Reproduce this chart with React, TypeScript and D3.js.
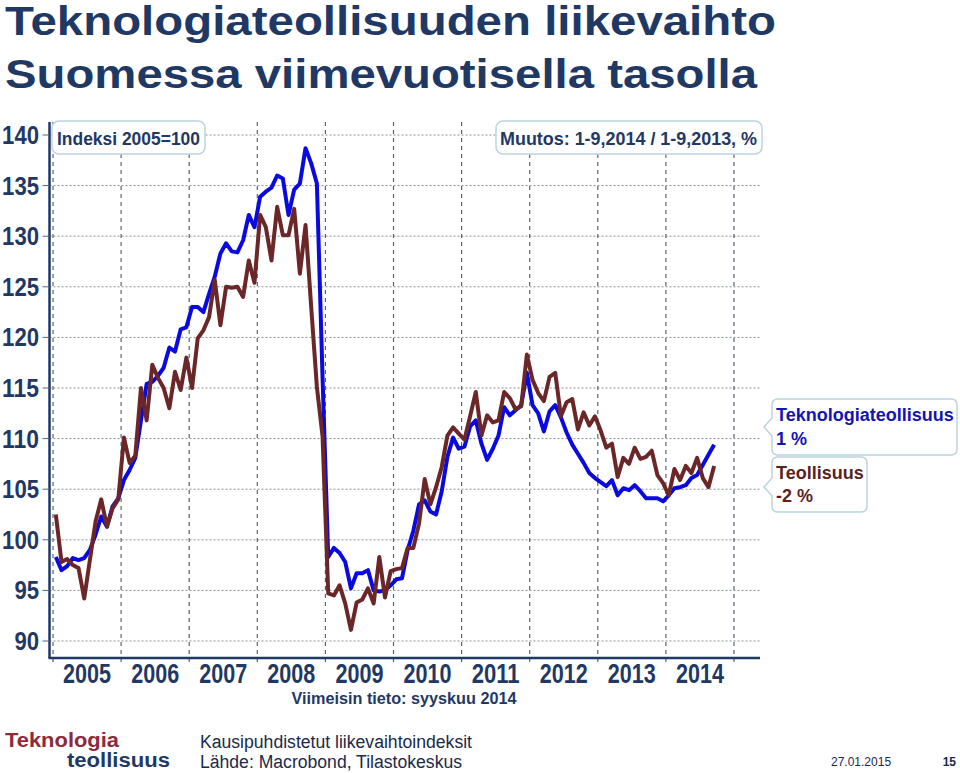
import React from 'react';
import * as d3 from 'd3';

// Index 2005=100, monthly Jan 2005 – Sep 2014
const years = ['2005', '2006', '2007', '2008', '2009', '2010', '2011', '2012', '2013', '2014'];
const yTicks = [90, 95, 100, 105, 110, 115, 120, 125, 130, 135, 140];

const teknologiateollisuus = [
  98.3, 97.0, 97.4, 98.2, 98.0, 98.2, 99.0, 100.5, 102.3, 101.3, 103.3, 104.1,
  105.9, 106.9, 108.1, 111.8, 115.4, 115.6, 116.2, 117.0, 119.0, 118.6, 120.8, 121.0,
  123.0, 123.0, 122.5, 124.3, 126.0, 128.3, 129.3, 128.5, 128.4, 129.6, 132.1, 130.9,
  133.9, 134.4, 134.8, 136.0, 135.7, 132.1, 134.6, 135.2, 138.7, 137.2, 135.2, 116.0,
  98.3, 99.2, 98.7, 97.8, 95.2, 96.7, 96.7, 97.0, 95.0, 94.9, 95.0, 95.5,
  96.1, 96.2, 99.0, 100.9, 103.5, 103.9, 102.8, 102.5, 104.8, 108.2, 110.1, 109.0,
  109.2, 111.2, 111.8, 109.5, 107.9, 109.0, 110.3, 113.1, 112.3, 112.8, 113.3, 116.5,
  113.3, 112.5, 110.7, 112.7, 113.3, 112.1, 110.6, 109.4, 108.5, 107.6, 106.6, 106.1,
  105.7, 105.3, 105.9, 104.4, 105.1, 104.9, 105.4, 104.8, 104.1, 104.1, 104.1, 103.8,
  104.4, 105.1, 105.2, 105.4, 106.1, 106.4, 107.4, 108.4, 109.4,
];

const teollisuus = [
  102.5, 97.8, 98.1, 97.5, 97.2, 94.2, 98.0, 101.8, 104.0, 101.3, 103.1, 104.0,
  110.1, 107.6, 108.3, 115.0, 111.8, 117.3, 116.0, 115.0, 113.0, 116.6, 114.8, 118.0,
  115.0, 119.9, 120.7, 122.0, 125.7, 121.2, 125.0, 124.9, 125.0, 124.0, 127.6, 125.4,
  132.1, 130.9, 127.6, 132.9, 130.1, 130.1, 132.7, 126.3, 131.1, 123.0, 115.1, 110.2,
  94.7, 94.5, 95.5, 93.7, 91.1, 93.8, 94.1, 95.2, 93.7, 98.3, 94.3, 96.9,
  97.1, 97.2, 99.2, 99.2, 101.6, 106.0, 103.5, 105.2, 107.2, 110.3, 111.1, 110.5,
  109.9, 112.2, 114.6, 110.3, 112.3, 111.6, 111.8, 114.6, 114.0, 112.9, 113.2, 118.3,
  115.8, 114.5, 113.7, 116.1, 116.5, 112.2, 113.6, 113.9, 110.9, 112.6, 111.3, 112.2,
  110.8, 109.1, 109.5, 106.2, 108.1, 107.5, 109.1, 108.0, 108.2, 108.8, 106.4, 105.6,
  104.4, 107.0, 105.9, 107.3, 106.6, 108.1, 106.1, 105.2, 107.3,
];

const NAVY = '#1f3864';
const BLUE = '#0a0ae0';
const BROWN = '#6b2727';
const BOX = '#bcd3df';
const FONT = '"Liberation Sans", Arial, sans-serif';

function callout(x0: number, y0: number, x1: number, y1: number, tipX: number, tipY: number, r = 6) {
  return `M${x0 + r},${y0} H${x1 - r} Q${x1},${y0} ${x1},${y0 + r} V${y1 - r} Q${x1},${y1} ${x1 - r},${y1} H${x0 + r} Q${x0},${y1} ${x0},${y1 - r} V${tipY + 9} L${tipX},${tipY} L${x0},${tipY - 9} V${y0 + r} Q${x0},${y0} ${x0 + r},${y0} Z`;
}

export default function App() {
  const x = d3.scaleLinear().domain([0, 120]).range([53, 734]);
  const y = d3.scaleLinear().domain([90, 140]).range([641, 135]);
  const line = d3
    .line<number>()
    .x((_, i) => x(i + 0.5))
    .y((d) => y(d));

  const axisLeft = 49.5;
  const axisBottom = 658;
  const plotRight = 760;
  const plotTop = 122;

  return (
    <svg
      width={960}
      height={773}
      style={{ position: 'absolute', left: 0, top: 0, display: 'block', background: '#fff' }}
      fontFamily={FONT}
    >
      <rect x={0} y={0} width={960} height={773} fill="#fff" />
      {/* Title */}
      <text x={5} y={35} fontSize={40} fontWeight="bold" fill={NAVY} textLength={771} lengthAdjust="spacingAndGlyphs">
        Teknologiateollisuuden liikevaihto
      </text>
      <text x={5} y={88} fontSize={40} fontWeight="bold" fill={NAVY} textLength={752} lengthAdjust="spacingAndGlyphs">
        Suomessa viimevuotisella tasolla
      </text>

      {/* horizontal gridlines */}
      {yTicks.map((t) => (
        <line key={'h' + t} x1={axisLeft} x2={plotRight} y1={y(t)} y2={y(t)} stroke="#8a8f96" strokeWidth={1} strokeDasharray="2,2" />
      ))}
      {/* vertical gridlines */}
      {d3.range(0, 11).map((k) => (
        <line key={'v' + k} x1={x(k * 12)} x2={x(k * 12)} y1={plotTop} y2={axisBottom + 7} stroke="#566576" strokeWidth={1.2} strokeDasharray="4,4" />
      ))}

      {/* axes */}
      <line x1={axisLeft} x2={axisLeft} y1={plotTop} y2={axisBottom} stroke={NAVY} strokeWidth={2.5} />
      <line x1={axisLeft - 1} x2={plotRight} y1={axisBottom} y2={axisBottom} stroke={NAVY} strokeWidth={2.5} />
      {yTicks.map((t) => (
        <line key={'t' + t} x1={axisLeft - 7} x2={axisLeft} y1={y(t)} y2={y(t)} stroke="#5a6574" strokeWidth={1} />
      ))}
      {yTicks.map((t) => (
        <text
          key={'l' + t}
          x={39}
          y={y(t) + 9}
          fontSize={25}
          fontWeight="bold"
          fill={NAVY}
          textAnchor="end"
          textLength={String(t).length * 12.3}
          lengthAdjust="spacingAndGlyphs"
        >
          {t}
        </text>
      ))}
      {years.map((yr, k) => (
        <text
          key={yr}
          x={x(k * 12 + 6)}
          y={683}
          fontSize={27}
          fontWeight="bold"
          fill={NAVY}
          textAnchor="middle"
          textLength={48}
          lengthAdjust="spacingAndGlyphs"
        >
          {yr}
        </text>
      ))}
      <text x={404} y={704} fontSize={17} fontWeight="bold" fill={NAVY} textAnchor="middle" textLength={225} lengthAdjust="spacingAndGlyphs">
        Viimeisin tieto: syyskuu 2014
      </text>

      {/* series */}
      <path d={line(teknologiateollisuus) || ''} fill="none" stroke={BLUE} strokeWidth={4} strokeLinejoin="round" />
      <path d={line(teollisuus) || ''} fill="none" stroke={BROWN} strokeWidth={4} strokeLinejoin="round" />

      {/* top boxes */}
      <rect x={52} y={121} width={153} height={33} rx={7} fill="#fff" stroke={BOX} strokeWidth={1.5} />
      <text x={57} y={145} fontSize={18} fontWeight="bold" fill={NAVY} textLength={143} lengthAdjust="spacingAndGlyphs">
        Indeksi 2005=100
      </text>
      <rect x={496} y={121} width={266} height={33} rx={7} fill="#fff" stroke={BOX} strokeWidth={1.5} />
      <text x={500} y={145} fontSize={18} fontWeight="bold" fill={NAVY} textLength={257} lengthAdjust="spacingAndGlyphs">
        Muutos: 1-9,2014 / 1-9,2013, %
      </text>

      {/* legend callouts */}
      <path d={callout(772, 399, 957, 455, 764, 427)} fill="#fff" stroke={BOX} strokeWidth={1.5} />
      <text x={776} y={421} fontSize={18} fontWeight="bold" fill="#1414b4">Teknologiateollisuus</text>
      <text x={776} y={445} fontSize={18} fontWeight="bold" fill="#1414b4">1 %</text>
      <path d={callout(772, 457, 867, 512, 764, 487)} fill="#fff" stroke={BOX} strokeWidth={1.5} />
      <text x={776} y={479} fontSize={18} fontWeight="bold" fill="#5c1f1f">Teollisuus</text>
      <text x={776} y={502} fontSize={18} fontWeight="bold" fill="#5c1f1f">-2 %</text>

      {/* footer */}
      <text x={5} y={747} fontSize={20} fontWeight="bold" fill="#8e2a3b" textLength={114} lengthAdjust="spacingAndGlyphs">
        Teknologia
      </text>
      <text x={67} y={767} fontSize={20} fontWeight="bold" fill={NAVY} textLength={103} lengthAdjust="spacingAndGlyphs">
        teollisuus
      </text>
      <text x={200} y={748} fontSize={17.6} fill="#1a2a4a" textLength={272} lengthAdjust="spacingAndGlyphs">
        Kausipuhdistetut liikevaihtoindeksit
      </text>
      <text x={200} y={768} fontSize={17.6} fill="#1a2a4a" textLength={262} lengthAdjust="spacingAndGlyphs">
        Lähde: Macrobond, Tilastokeskus
      </text>
      <text x={831} y={766} fontSize={12} fill="#1a2a4a">27.01.2015</text>
      <text x={956} y={766} fontSize={12} fontWeight="bold" fill="#1a2a4a" textAnchor="end">15</text>
    </svg>
  );
}
